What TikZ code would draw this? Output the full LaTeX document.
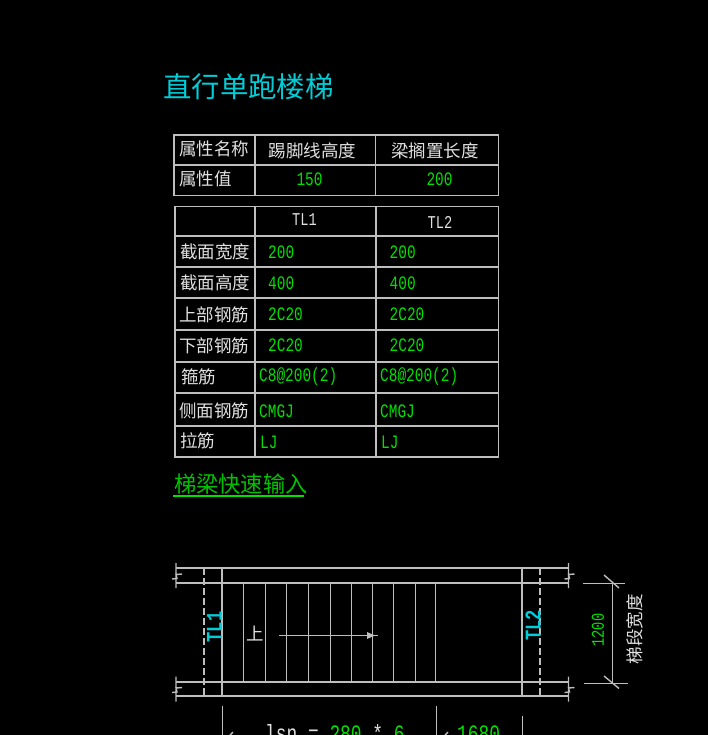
\documentclass[tikz,border=0pt]{standalone}
\usepackage{fontspec}
\setmainfont{Noto Sans CJK SC}
\newfontfamily\cadfont[FakeStretch=0.76]{Liberation Mono}
\definecolor{cadcyan}{RGB}{0,205,215}
\definecolor{cadgreen}{RGB}{0,225,0}
\definecolor{linkgreen}{RGB}{0,195,0}
\definecolor{cadwhite}{RGB}{225,225,225}
\definecolor{cadgray}{RGB}{190,190,190}
\tikzset{
  grid/.style={cadgray, line width=1.8pt},
  wall/.style={cadgray, line width=2.2pt},
  thin line/.style={cadgray, line width=1.4pt},
  label/.style={cadwhite, inner sep=0pt, font=\fontsize{17.5}{18}\selectfont},
  value/.style={cadgreen, inner sep=0pt, anchor=west, font=\cadfont\fontsize{19}{19}\selectfont},
  head/.style={cadwhite, inner sep=0pt, font=\cadfont\fontsize{18}{18}\selectfont},
  beam/.style={cadcyan, inner sep=0pt, rotate=90, font=\cadfont\bfseries\fontsize{22.5}{22}\selectfont}
}
\newcommand{\breakmark}[2]{\draw[thin line] (#1,#2-13) -- (#1,#2+12) (#1-4,#2+3) -- (#1+1,#2+2.5) -- (#1,#2-1.5) -- (#1+6,#2-2);}
\begin{document}
\begin{tikzpicture}[x=1pt,y=-1pt]
    \useasboundingbox (0,0) rectangle (708,735);
    \clip (0,0) rectangle (708,735);
    \fill[black] (0,0) rectangle (708,735);

    % title
    \node[cadcyan, inner sep=0pt, anchor=west, font=\fontsize{28.4}{28}\selectfont] (title) at (163,87) {直行单跑楼梯};

    % upper table
    \draw[grid] (174,135) rectangle (498.5,195.5);
    \draw[grid] (174,165) -- (498.5,165);
    \draw[grid] (255,135) -- (255,195.5);
    \draw[grid] (375.5,135) -- (375.5,195.5);

    \node[label, anchor=west] (propname) at (179,149) {属性名称};
    \node[label] (kick) at (312.5,151) {踢脚线高度};
    \node[label] (seat) at (435,151) {梁搁置长度};
    \node[label, anchor=west] (propval) at (179,179) {属性值};
    \node[value, anchor=center] (kickval) at (309.5,179) {150};
    \node[value, anchor=center] (seatval) at (439.5,179) {200};

    % lower table
    \draw[grid] (175,206.5) rectangle (498.5,457);
    \foreach \y in {236,267,298,330,362,393,426}
        \draw[grid] (175,\y) -- (498.5,\y);
    \draw[grid] (255,206.5) -- (255,457);
    \draw[grid] (376,206.5) -- (376,457);

    \node[head] (tlone) at (304.5,220) {TL1};
    \node[head] (tltwo) at (440,222) {TL2};

    \node[label, anchor=west] (width) at (180,252) {截面宽度};
    \node[label, anchor=west] (height) at (180,283) {截面高度};
    \node[label, anchor=west] (upper) at (179,315) {上部钢筋};
    \node[label, anchor=west] (lower) at (179,346) {下部钢筋};
    \node[label, anchor=west] (stirrup) at (181,377) {箍筋};
    \node[label, anchor=west] (side) at (179,411) {侧面钢筋};
    \node[label, anchor=west] (tie) at (180,441) {拉筋};

    \node[value] (widtha) at (268,252) {200};
    \node[value] (widthb) at (389.5,252) {200};
    \node[value] (heighta) at (268,283) {400};
    \node[value] (heightb) at (389.5,283) {400};
    \node[value] (uppera) at (268,314) {2C20};
    \node[value] (upperb) at (389.5,314) {2C20};
    \node[value] (lowera) at (268,345) {2C20};
    \node[value] (lowerb) at (389.5,345) {2C20};
    \node[value] (stirrupa) at (259,377) {C8@200(2)};
    \node[value] (stirrupb) at (380,377) {C8@200(2)};
    \node[value] (sidea) at (259,411) {CMGJ};
    \node[value] (sideb) at (380,411) {CMGJ};
    \node[value] (tiea) at (260,442) {LJ};
    \node[value] (tieb) at (381,442) {LJ};

    % link
    \node[linkgreen, inner sep=0pt, anchor=west, font=\fontsize{22.2}{22}\selectfont] (link) at (174,484) {梯梁快速输入};
    \draw[cadgreen, line width=2pt] (173,496) -- (304,496);

    % stair plan
    \draw[wall] (176,568) -- (568,568);
    \draw[wall] (176,583) -- (568,583);
    \draw[wall] (176,682) -- (568,682);
    \draw[wall] (176,696) -- (568,696);
    \breakmark{176}{576}
    \breakmark{176}{689.5}
    \breakmark{568.5}{576}
    \breakmark{568.5}{689.5}

    \draw[wall] (222,568) -- (222,696);
    \draw[wall] (522,568) -- (522,696);
    \draw[wall, dash pattern=on 7pt off 3pt] (204,568) -- (204,696);
    \draw[wall, dash pattern=on 7pt off 3pt] (540,568) -- (540,696);

    \foreach \x in {243.5,265.5,286.5,308.5,330.5,351.5,372.5,393.5,415.5,435.5}
        \draw[thin line] (\x,583) -- (\x,682);

    \coordinate (walkstart) at (279,635.5);
    \coordinate (walkend) at (377.5,635.5);
    \draw[thin line] (walkstart) -- (walkend);
    \fill[cadgray] (367,632) -- (375,635.5) -- (367,639) -- cycle;
    \node[label] (up) at (255,634) {上};

    \node[beam] (beamone) at (214.5,627) {TL1};
    \node[beam] (beamtwo) at (533,625.5) {TL2};

    % width dimension
    \draw[thin line] (583,583.5) -- (625,583.5);
    \draw[thin line] (584,683.5) -- (628,683.5);
    \draw[thin line] (612.5,583.5) -- (612.5,683.5);
    \draw[thin line] (604,575) -- (619,588);
    \draw[thin line] (604,676) -- (619,688.5);
    \node[cadgreen, inner sep=0pt, rotate=90, font=\cadfont\fontsize{18}{18}\selectfont] (dimval) at (598,630) {1200};
    \node[label, rotate=90] (dimlabel) at (635,629) {梯段宽度};

    % length dimension
    \draw[thin line] (222.5,706) -- (222.5,735);
    \draw[thin line] (436.5,706) -- (436.5,735);
    \draw[thin line] (522.5,716) -- (522.5,735);
    \draw[thin line] (230,735) -- (233,732);
    \draw[thin line] (445,735) -- (448,732);
    \node[inner sep=0pt, cadwhite, anchor=base west, font=\cadfont\fontsize{23.5}{24}\selectfont] (lsn) at (265,741) {lsn = \textcolor{cadgreen}{280} * \textcolor{cadgreen}{6}};
    \node[inner sep=0pt, cadgreen, anchor=base west, font=\cadfont\fontsize{23.5}{24}\selectfont] (lastrun) at (457,741) {1680};
\end{tikzpicture}
\end{document}
